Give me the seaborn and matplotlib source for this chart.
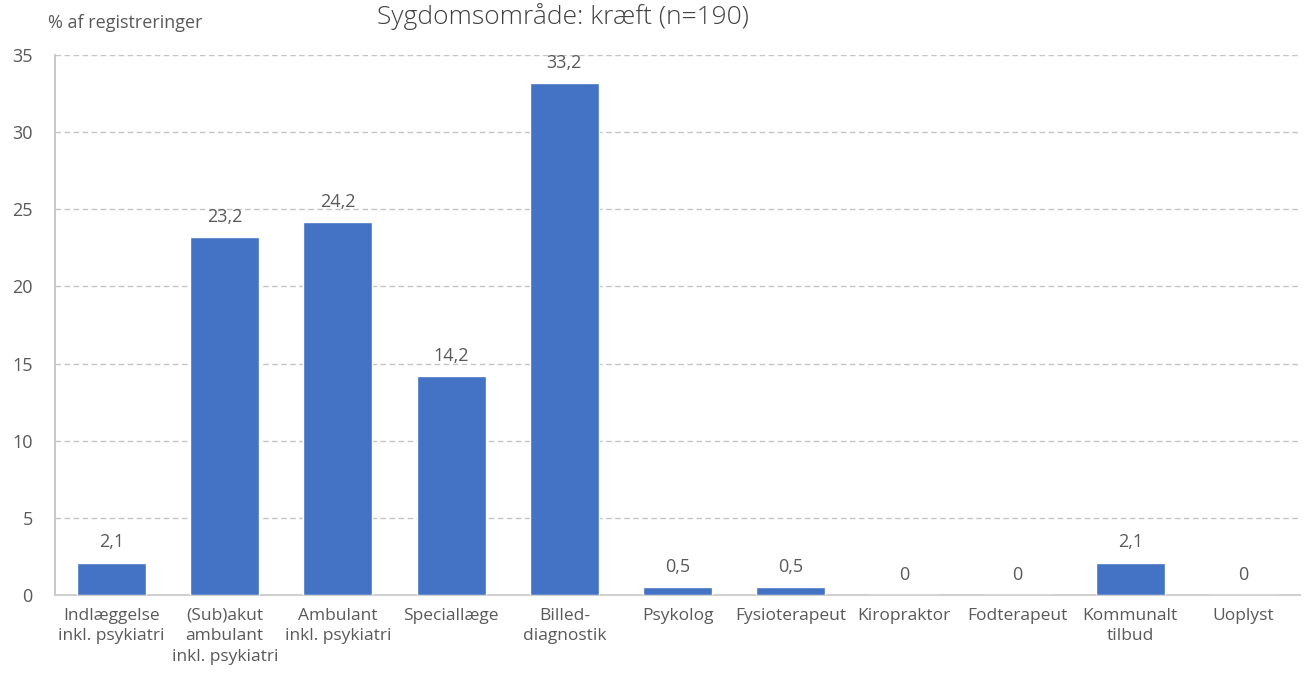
import matplotlib
matplotlib.use("Agg")
import matplotlib.pyplot as plt
import seaborn as sns
import pandas as pd

categories = [
    "Indlæggelse\ninkl. psykiatri",
    "(Sub)akut\nambulant\ninkl. psykiatri",
    "Ambulant\ninkl. psykiatri",
    "Speciallæge",
    "Billed-\ndiagnostik",
    "Psykolog",
    "Fysioterapeut",
    "Kiropraktor",
    "Fodterapeut",
    "Kommunalt\ntilbud",
    "Uoplyst",
]
values = [2.1, 23.2, 24.2, 14.2, 33.2, 0.5, 0.5, 0, 0, 2.1, 0]
value_labels = ["2,1", "23,2", "24,2", "14,2", "33,2", "0,5", "0,5", "0", "0", "2,1", "0"]
y_ticks = [0, 5, 10, 15, 20, 25, 30, 35]

title = "Sygdomsområde: kræft (n=190)"
y_title = "% af registreringer"

sns.set_theme(style="white")
plt.rcParams["font.family"] = ["Open Sans", "DejaVu Sans"]

text_color = "#595959"
bar_color = "#4472C4"
grid_color = "#C4C4C4"
axis_color = "#BFBFBF"

df = pd.DataFrame({"kategori": categories, "andel": values})

fig = plt.figure(figsize=(13.08, 6.77), dpi=100)
ax = fig.add_axes([55 / 1308, 1 - 595 / 677, 1245 / 1308, 540 / 677])

sns.barplot(data=df, x="kategori", y="andel", color=bar_color, saturation=1,
            width=0.61, ax=ax, zorder=3)

ax.set_ylim(0, 35)
ax.set_yticks(y_ticks)
ax.set_yticklabels([str(t) for t in y_ticks])
ax.set_xlim(-0.5, len(categories) - 0.5)
ax.yaxis.grid(True, linestyle=(0, (4, 2.5)), color=grid_color, linewidth=1, zorder=0)
ax.xaxis.grid(False)
for side in ["top", "right"]:
    ax.spines[side].set_visible(False)
ax.spines["left"].set_color(axis_color)
ax.spines["bottom"].set_color("#D0D0D0")
ax.spines["left"].set_linewidth(1.2)
ax.spines["bottom"].set_linewidth(1.5)
ax.tick_params(axis="both", length=0, colors=text_color, labelsize=12.5)
ax.tick_params(axis="y", pad=16, labelsize=13)
ax.tick_params(axis="x", pad=9)
for lbl in ax.get_xticklabels():
    lbl.set_linespacing(1.4)
ax.set_xlabel("")
ax.set_ylabel("")

for i, (v, t) in enumerate(zip(values, value_labels)):
    ax.annotate(t, (i, v), xytext=(0, 8), textcoords="offset points",
                ha="center", va="bottom", color=text_color, fontsize=13)

fig.text(48 / 1308, 1 - 23 / 677, y_title, ha="left", va="center",
         color=text_color, fontsize=13)
fig.text(563 / 1308, 1 - 24 / 677, title, ha="center", va="baseline",
         color="#404040", fontsize=19, fontweight="light")

fig.savefig("out.png", dpi=100, facecolor="white")
